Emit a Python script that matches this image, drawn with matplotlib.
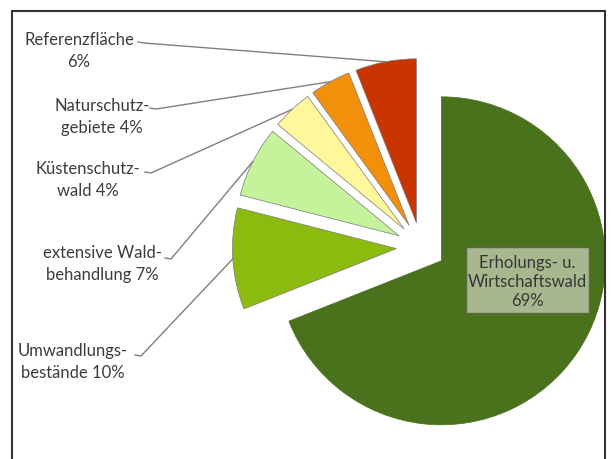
import numpy as np
import matplotlib.pyplot as plt
from matplotlib.patches import Rectangle

plt.rcParams['font.family'] = ['Lato', 'DejaVu Sans']

# data
names = ['Erholungs- u.\nWirtschaftswald', 'Umwandlungs-\nbestände', 'extensive Wald-\nbehandlung',
         'Küstenschutz-\nwald', 'Naturschutz-\ngebiete', 'Referenzfläche']
shares = [69, 10, 7, 4, 4, 6]
colors = ['#4a711c', '#8cbb10', '#c6f29c', '#fff79c', '#f2900c', '#c93400']

# label text layout (pixel positions in the picture, y from top)
label_text = ['Umwandlungs-\nbestände 10%', 'extensive Wald-\nbehandlung 7%',
              'Küstenschutz-\nwald 4%', 'Naturschutz-\ngebiete 4%', 'Referenzfläche\n6%']
label_xy = [(73, 362), (102, 264), (88, 180), (102, 117), (79, 51)]
line_start = [(135, 356), (165, 259), (145, 173), (150, 109), (138, 43)]

W, H = 611, 460
R = 164
fig = plt.figure(figsize=(W / 100, H / 100), dpi=100)
ax = fig.add_axes([0, 0, 1, 1])

wedges, _ = ax.pie(shares, colors=colors, startangle=90, counterclock=False,
                   radius=R, center=(421, H - 248), explode=[0.15 * R] * 6,
                   wedgeprops=dict(edgecolor='#7a7a7a', linewidth=0.5))
wedges[0].set_edgecolor(colors[0])

ax.set_xlim(0, W)
ax.set_ylim(0, H)
ax.set_aspect('equal')
ax.axis('off')

# leader lines to the mid of each small slice's arc
for w, txt, (lx, ly), (sx, sy) in zip(wedges[1:], label_text, label_xy, line_start):
    mid = np.deg2rad((w.theta1 + w.theta2) / 2)
    ex = w.center[0] + w.r * np.cos(mid)
    ey = w.center[1] + w.r * np.sin(mid)
    ax.plot([sx, sx + 6, ex], [H - sy, H - sy - 1, ey], color='#7f7f7f', lw=1)
    ax.text(lx, H - ly, txt, ha='center', va='center', fontsize=12,
            color='#3c3c3c', linespacing=1.5)

# big slice label in a box
ax.add_patch(Rectangle((466, H - 314), 123, 66, facecolor='#a7b78e',
                       edgecolor='#5b6a48', lw=1))
ax.text(527.5, H - 282, names[0] + '\n%d%%' % shares[0], ha='center', va='center',
        fontsize=12, color='#363636', linespacing=1.2)

# chart frame
ax.add_patch(Rectangle((12, -20), 593, H - 12 + 20, fill=False,
                       edgecolor='#333333', lw=1.5))

fig.savefig('out.png', dpi=100)
